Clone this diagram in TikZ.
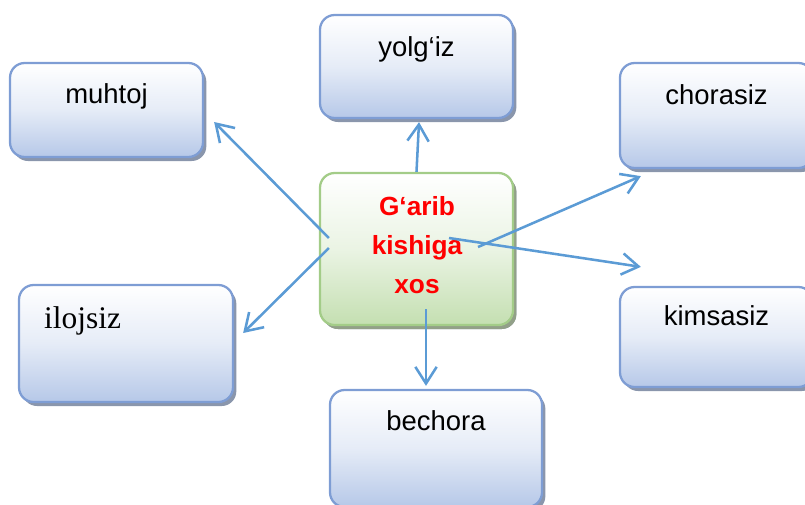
\documentclass[tikz,border=0pt]{standalone}
\usepackage{fontspec}
\setmainfont{Liberation Sans}
\newfontfamily\serifword{Liberation Serif}
\usetikzlibrary{calc,arrows.meta,shadows}

\definecolor{boxline}{RGB}{126,157,212}
\definecolor{boxbottom}{RGB}{182,200,232}
\definecolor{boxshadow}{RGB}{138,150,172}
\definecolor{midline}{RGB}{163,204,136}
\definecolor{midbottom}{RGB}{196,223,177}
\definecolor{midshadow}{RGB}{146,160,136}
\definecolor{link}{RGB}{91,155,213}

\tikzset{
  wordbox/.style={draw=boxline, line width=1.7pt, rounded corners=11pt,
    top color=white, bottom color=boxbottom, middle color=boxbottom!35!white,
    drop shadow={shadow xshift=2.5pt, shadow yshift=-3pt, fill=boxshadow, opacity=1},
    minimum width=144.75pt, inner sep=0pt},
  midbox/.style={wordbox, draw=midline, bottom color=midbottom, middle color=midbottom!35!white,
    drop shadow={shadow xshift=2.5pt, shadow yshift=-3pt, fill=midshadow, opacity=1}},
  word/.style={inner sep=0pt, anchor=base, font=\fontsize{20.6}{24}\selectfont},
  link/.style={draw=link, line width=1.9pt, -{Straight Barb[length=12.5pt,width=16pt]}}
}

\begin{document}
\begin{tikzpicture}[x=0.75pt,y=-0.75pt]
\useasboundingbox (0,0) rectangle (805,504);

% boxes
\node [wordbox, minimum height=70.5pt] (muhtoj) at (106.5,110) {};
\node [wordbox, minimum height=77.25pt] (yolgiz) at (416.5,66.5) {};
\node [wordbox, minimum height=78.75pt] (chorasiz) at (716.5,115.5) {};
\node [wordbox, minimum height=75pt] (kimsasiz) at (716.5,337) {};
\node [wordbox, minimum width=160.5pt, minimum height=87.75pt] (ilojsiz) at (126,343.5) {};
\node [wordbox, minimum width=159pt, minimum height=87.75pt] (bechora) at (436,448.5) {};
\node [midbox, minimum height=114pt] (garib) at (416.5,249) {};

% words
\node [word] (muhtojtext) at ($ (muhtoj.north) + (0,42) $) {muhtoj};
\node [word] (yolgiztext) at ($ (yolgiz.north) + (0,43) $) {yolg‘iz};
\node [word] (chorasiztext) at ($ (chorasiz.north) + (0,43) $) {chorasiz};
\node [word] (kimsasiztext) at ($ (kimsasiz.north) + (0,40) $) {kimsasiz};
\node [word] (bechoratext) at ($ (bechora.north) + (0,42) $) {bechora};
\node [word, anchor=base west, font=\serifword\fontsize{23.6}{28}\selectfont] (ilojsiztext) at ($ (ilojsiz.north west) + (26,45) $) {ilojsiz};
\node [inner sep=0pt, align=center, text=red, font=\bfseries\fontsize{19.7}{29.3}\selectfont] (garibtext) at ($ (garib) + (0.5,-4) $) {G‘arib\\kishiga\\xos};

% arrows
\draw [link] (garib.north) -- ($ (yolgiz.south) + (2.5,3) $);
\draw [link] ($ (garib.west) + (10,-11) $) -- ($ (muhtoj.east) + (10,12) $);
\draw [link] ($ (garib.west) + (10,-1) $) -- ($ (ilojsiz.east) + (9,-10.5) $);
\draw [link] ($ (garib) + (61.5,-2) $) -- ($ (chorasiz.south west) + (22,7) $);
\draw [link] ($ (garib) + (32.5,-11) $) -- ($ (kimsasiz.north west) + (22,-19) $);
\draw [link] ($ (garib.south) + (9.5,-17) $) -- ($ (bechora.north) + (-10,-3) $);

\end{tikzpicture}
\end{document}
